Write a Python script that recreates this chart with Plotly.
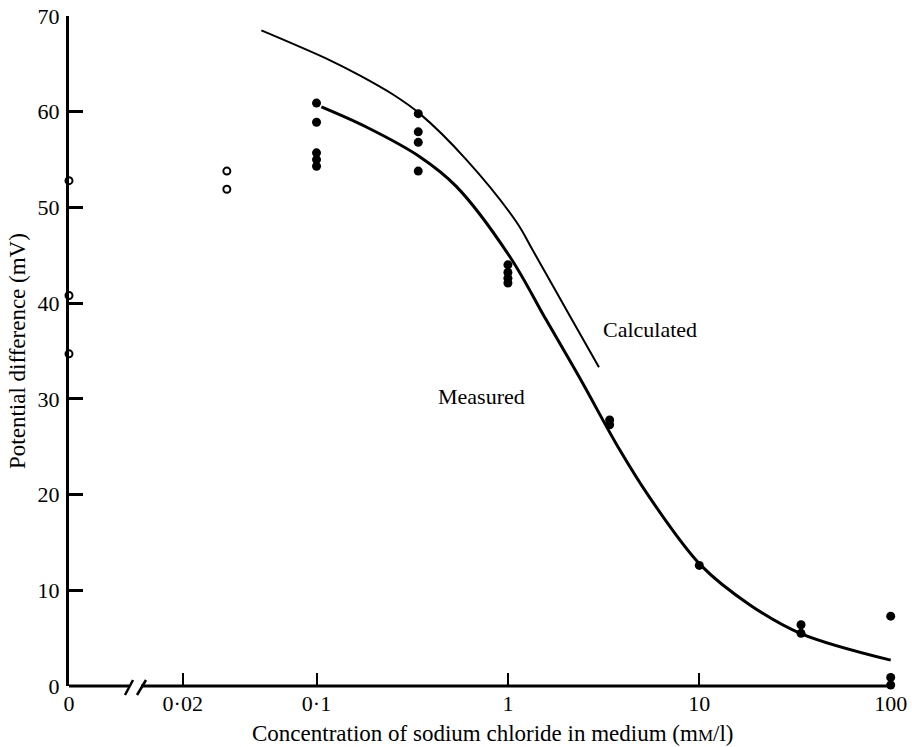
import math
import plotly.graph_objects as go

# ---------------- data ----------------
# Filled circles (measured)
conc_filled = [0.1, 0.1, 0.1, 0.1, 0.1,
               0.34, 0.34, 0.34, 0.34,
               1, 1, 1, 1,
               3.4, 3.4,
               10,
               34, 34,
               100, 100, 100]
pd_filled = [60.9, 58.9, 55.7, 55.0, 54.3,
             59.8, 57.9, 56.8, 53.8,
             44.0, 43.2, 42.6, 42.1,
             27.8, 27.3,
             12.6,
             6.4, 5.5,
             7.3, 0.9, 0.1]

# Open circles
conc_open = [0, 0, 0, 0.034, 0.034]
pd_open = [52.8, 40.8, 34.7, 53.8, 51.9]

# Calculated curve
calc_conc = [0.0515, 0.117, 0.168, 0.251, 0.346, 0.606, 1.106, 1.351, 2.10, 2.99]
calc_pd = [68.5, 65.4, 63.8, 61.8, 59.8, 55.0, 48.5, 45.5, 38.7, 33.3]

# Measured curve
meas_conc = [0.106, 0.182, 0.346, 0.537, 1.02, 1.59, 2.37, 3.83, 5.5, 10.2, 18.3, 33.7, 100]
meas_pd = [60.5, 58.4, 55.3, 52.2, 44.9, 38.2, 32.2, 24.7, 19.7, 12.6, 8.5, 5.5, 2.7]

x_tickvals = [0, 0.02, 0.1, 1, 10, 100]
x_ticktext = ["0", "0·02", "0·1", "1", "10", "100"]
y_tickvals = [0, 10, 20, 30, 40, 50, 60, 70]

# Position used to show concentration 0 on the broken log axis
ZERO_POS = 0.00509


def xpos(v):
    return [ZERO_POS if c == 0 else c for c in v]


FONT = "Liberation Serif"
BLACK = "black"

fig = go.Figure()

fig.add_trace(go.Scatter(
    x=calc_conc, y=calc_pd, mode="lines",
    line=dict(color=BLACK, width=2, shape="spline", smoothing=1.0),
    hoverinfo="skip", showlegend=False, cliponaxis=False))
fig.add_trace(go.Scatter(
    x=meas_conc, y=meas_pd, mode="lines",
    line=dict(color=BLACK, width=3, shape="spline", smoothing=1.0),
    hoverinfo="skip", showlegend=False, cliponaxis=False))
fig.add_trace(go.Scatter(
    x=xpos(conc_filled), y=pd_filled, mode="markers",
    marker=dict(symbol="circle", size=9, color=BLACK, line=dict(width=0)),
    showlegend=False, cliponaxis=False))
fig.add_trace(go.Scatter(
    x=xpos(conc_open), y=pd_open, mode="markers",
    marker=dict(symbol="circle-open", size=7, color=BLACK, line=dict(width=2)),
    showlegend=False, cliponaxis=False))

# plot area spans x 69..893, y 16..686 on the page
W, H = 912, 747
PX0, PY0, PW, PH = 69, 686, 824, 670
L, T = PX0, PY0 - PH
R = W - L - PW
B = H - PY0


def px(xp):
    return (xp - PX0) / PW


def py(yp):
    return (PY0 - yp) / PH


shapes = [
    # x-axis line with break
    dict(type="line", xref="paper", yref="paper", x0=0, x1=px(129), y0=0, y1=0,
         line=dict(color=BLACK, width=3)),
    dict(type="line", xref="paper", yref="paper", x0=px(141), x1=1, y0=0, y1=0,
         line=dict(color=BLACK, width=3)),
    dict(type="line", xref="paper", yref="paper", x0=px(125), x1=px(133), y0=py(695), y1=py(680),
         line=dict(color=BLACK, width=2.5)),
    dict(type="line", xref="paper", yref="paper", x0=px(137), x1=px(146), y0=py(695), y1=py(680),
         line=dict(color=BLACK, width=2.5)),
]

annotations = [
    dict(x=math.log10(5.5), y=37.2, xref="x", yref="y", text="Calculated", showarrow=False,
         xanchor="center", yanchor="middle",
         font=dict(family=FONT, size=22, color=BLACK)),
    dict(x=math.log10(0.73), y=30.2, xref="x", yref="y", text="Measured", showarrow=False,
         xanchor="center", yanchor="middle",
         font=dict(family=FONT, size=22, color=BLACK)),
    dict(x=px(492), y=py(733), xref="paper", yref="paper",
         text="Concentration of sodium chloride in medium (m<span style='font-size:17px'>M</span>/l)",
         xanchor="center", yanchor="middle",
         showarrow=False, font=dict(family=FONT, size=23, color=BLACK)),
    dict(x=px(17), y=py(351), xref="paper", yref="paper", text="Potential difference (mV)",
         xanchor="center", yanchor="middle",
         textangle=-90, showarrow=False, font=dict(family=FONT, size=23, color=BLACK)),
]

fig.update_layout(
    template="none",
    width=W, height=H, autosize=False,
    margin=dict(l=L, r=R, t=T, b=B, pad=0),
    paper_bgcolor="white", plot_bgcolor="white",
    font=dict(family=FONT, size=22, color=BLACK),
    shapes=shapes, annotations=annotations,
    showlegend=False,
)

fig.update_xaxes(
    type="log", range=[math.log10(ZERO_POS), 2.012],
    tickvals=xpos(x_tickvals), ticktext=x_ticktext,
    ticks="inside", ticklen=13, tickwidth=2, tickcolor=BLACK,
    showline=False, showgrid=False, zeroline=False, automargin=False,
    tickfont=dict(family=FONT, size=22, color=BLACK),
    ticklabelstandoff=2, ticklabeloverflow="allow",
)
fig.update_yaxes(
    range=[0, 70], tickvals=y_tickvals,
    ticks="inside", ticklen=14, tickwidth=3, tickcolor=BLACK,
    showline=True, linewidth=3, linecolor=BLACK,
    showgrid=False, zeroline=False, automargin=False,
    tickfont=dict(family=FONT, size=22, color=BLACK),
    ticklabelstandoff=2, ticklabeloverflow="allow",
)

fig.write_html(
    "out.html",
    config={"displayModeBar": False, "staticPlot": True},
    post_script="document.body.style.margin='0';document.body.style.overflow='hidden';",
)
